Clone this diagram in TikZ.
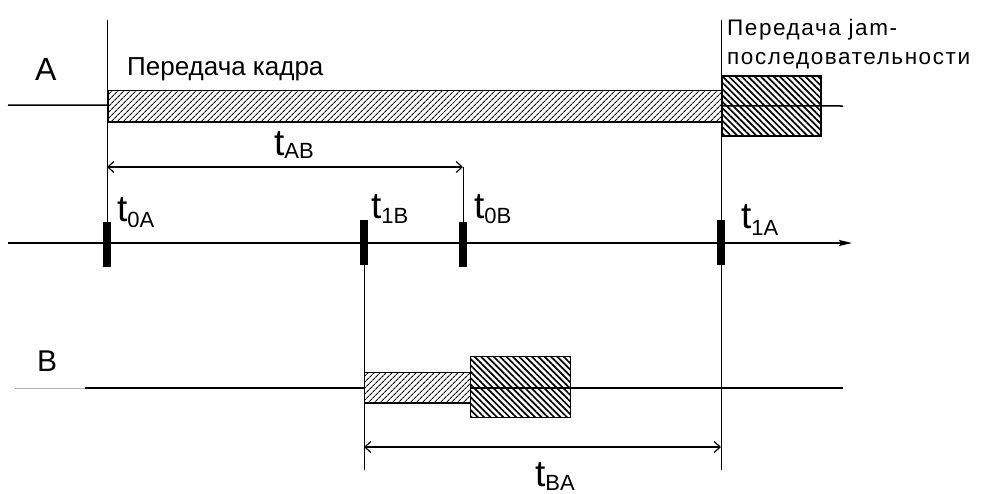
\documentclass[tikz,border=0pt]{standalone}
\usepackage{fontspec}
\setmainfont{Liberation Sans}
\usetikzlibrary{arrows.meta,patterns.meta}
\newcommand{\tlab}[2][5pt]{{\fontsize{37}{37}\selectfont t}{\fontsize{22}{22}\selectfont\raisebox{-#1}{#2}}}
\begin{document}
\begin{tikzpicture}[x=1pt,y=-1pt,
  mainline/.style={line width=1.5pt},
  vline/.style={line width=1pt},
  dimline/.style={line width=1.2pt,{Straight Barb[length=6pt,width=11pt]}-{Straight Barb[length=6pt,width=11pt]}},
  tickmark/.style={fill=black,inner sep=0pt,minimum width=8pt,minimum height=45pt},
  framebar/.style={draw,line width=1.1pt,fill=white,anchor=north west,inner sep=0pt,
    pattern={Lines[angle=45,distance=4pt,line width=1.1pt]}},
  jambar/.style={draw,line width=1.3pt,anchor=north west,inner sep=0pt,
    pattern={Lines[angle=-45,distance=4.5pt,line width=1.7pt]}},
  lbl/.style={inner sep=0pt,anchor=base west},
]
\useasboundingbox (0,0) rectangle (986,493);
% coordinates
\coordinate (Astart) at (8,105);
\coordinate (Aend) at (843,106);
\coordinate (Bgray) at (15,388);
\coordinate (Bstart) at (85,388);
\coordinate (Bend) at (843,388);
\coordinate (axS) at (8,243);
\coordinate (axE) at (852,243);
\coordinate (topA) at (107,20);
\coordinate (topJ) at (721,20);
\coordinate (botJ) at (721,470);
\coordinate (botB) at (364,470);
\coordinate (abL) at (107,167);
\coordinate (abR) at (463,167);
\coordinate (baL) at (364,447);
\coordinate (baR) at (721,447);

% A line and bars
\draw[mainline] (Astart) -- (Aend);
\fill[white] (108,90) rectangle (721,121);
\node[framebar,minimum width=613pt,minimum height=31pt] (fA) at (108,90) {};
\draw[line width=2pt] (fA.south west) -- (fA.south east);
\node[jambar,minimum width=99pt,minimum height=60pt] (jA) at (721,75) {};

% B line and bars
\draw[line width=1pt,gray!60] (Bgray) -- (Bstart);
\draw[mainline] (Bstart) -- (Bend);
\fill[white] (364,372) rectangle (470,402);
\node[framebar,minimum width=106pt,minimum height=30pt] (fB) at (364,372) {};
\draw[line width=2pt] (fB.south west) -- (fB.south east);
\node[jambar,minimum width=100pt,minimum height=61pt] (jB) at (470,356) {};

% time axis
\draw[mainline,-{Stealth[length=13pt,width=6pt,inset=2pt]}] (axS) -- (axE);
\node[tickmark] (k0A) at (107,244.5) {};
\node[tickmark] (k1B) at (364,242) {};
\node[tickmark] (k0B) at (463,244.5) {};
\node[tickmark] (k1A) at (721,242) {};

% vertical lines
\draw[vline] (topA) -- (k0A.north);
\draw[vline] (abR) -- (k0B.north);
\draw[vline] (k1B.south) -- (botB);
\draw[vline] (topJ) -- (botJ);

% dimension arrows
\draw[dimline] (abL) -- (abR);
\draw[dimline] (baL) -- (baR);

% labels
\node[lbl,font=\fontsize{32}{32}\selectfont] (lA) at (35,80) {A};
\node[lbl,font=\fontsize{30}{30}\selectfont] (lB) at (37,371) {B};
\node[lbl,font=\fontsize{26}{26}\selectfont] (txA) at (127,75) {Передача кадра};
\node[lbl,font=\fontsize{22.5}{22.5}\selectfont\addfontfeatures{LetterSpace=7}] (jt1) at (727,35) {Передача jam-};
\node[lbl,font=\fontsize{22.5}{22.5}\selectfont\addfontfeatures{LetterSpace=7}] (jt2) at (727,64) {последовательности};
\node[lbl] (t0A) at (117,221) {\tlab[6pt]{0A}};
\node[lbl] (t1B) at (371,218) {\tlab{1B}};
\node[lbl] (t0B) at (474,218) {\tlab{0B}};
\node[lbl] (t1A) at (741,228) {\tlab[7pt]{1A}};
\node[lbl] (tAB) at (274,155) {\tlab[3pt]{AB}};
\node[lbl] (tBA) at (535,486) {\tlab[4pt]{BA}};
\end{tikzpicture}
\end{document}
